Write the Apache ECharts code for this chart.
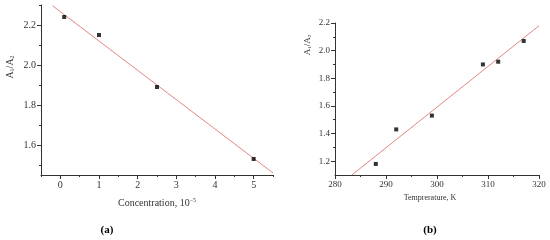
<!DOCTYPE html>
<html>
<head>
<meta charset="utf-8">
<script src="https://cdn.jsdelivr.net/npm/echarts@6/dist/echarts.min.js"></script>
<style>html,body{margin:0;padding:0;background:#fff}</style>
</head>
<body>
<div id="container" style="width:550px;height:240px;"></div>
<script type="text/javascript">
// (a) ratio vs concentration
var concX = [0.1, 1, 2.5, 5];
var concY = [2.24, 2.15, 1.89, 1.53];
var concFit = [[-0.2, 2.296], [5.5, 1.46]];
var concTicks = [0, 1, 2, 3, 4, 5];
var concMinor = [-0.5, 0.5, 1.5, 2.5, 3.5, 4.5, 5.5];
var ratioTicksA = [1.6, 1.8, 2.0, 2.2];
var ratioMinorA = [1.5, 1.7, 1.9, 2.1, 2.3];

// (b) ratio vs temperature
var tempX = [288, 292, 299, 309, 312, 317];
var tempY = [1.18, 1.43, 1.53, 1.90, 1.92, 2.07];
var tempFit = [[283.3, 1.1], [320, 2.18]];
var tempTicks = [280, 290, 300, 310, 320];
var tempMinor = [285, 295, 305, 315];
var ratioTicksB = [1.2, 1.4, 1.6, 1.8, 2.0, 2.2];
var ratioMinorB = [1.3, 1.5, 1.7, 1.9, 2.1];

var font = 'Liberation Serif';
var ink = '#333';
var fitColor = '#e48686';

function pairs(xs, ys) {
    var out = [];
    for (var i = 0; i < xs.length; i++) out.push([xs[i], ys[i]]);
    return out;
}

function mainAxis(grid, min, max, ticks, size, decimals, extra) {
    var ax = {
        type: 'value', gridIndex: grid, min: min, max: max,
        axisLine: { show: true, onZero: false, lineStyle: { color: ink, width: 1 } },
        axisTick: { show: true, length: 4, customValues: ticks, lineStyle: { color: ink } },
        axisLabel: { show: true, customValues: ticks, color: ink, fontFamily: font, fontSize: size, margin: 5,
            formatter: function (v) { return v.toFixed(decimals); } },
        splitLine: { show: false }
    };
    for (var k in extra) ax[k] = extra[k];
    return ax;
}

// second axis on the same side, only for the short minor ticks
function minorAxis(grid, min, max, ticks, extra) {
    var ax = {
        type: 'value', gridIndex: grid, min: min, max: max,
        axisLine: { show: false, onZero: false },
        axisTick: { show: true, length: 2, customValues: ticks, lineStyle: { color: ink } },
        axisLabel: { show: false },
        splitLine: { show: false }
    };
    for (var k in extra) ax[k] = extra[k];
    return ax;
}

var myChart = echarts.init(document.getElementById('container'), null, { renderer: 'canvas' });

var option = {
    animation: false,
    backgroundColor: '#fff',
    grid: [
        { left: 41, top: 5, width: 232, bottom: 65 },
        { left: 335, top: 23, width: 204, bottom: 65 }
    ],
    xAxis: [
        mainAxis(0, -0.5, 5.5, concTicks, 10, 0, {
            position: 'bottom',
            name: 'Concentration, 10{sup|\u22125}', nameLocation: 'middle', nameGap: 22,
            nameTextStyle: { color: ink, fontFamily: font, fontSize: 10, rich: { sup: { fontSize: 6, verticalAlign: 'top', padding: [0, 0, 6, 0], fontFamily: font, color: ink } } }
        }),
        minorAxis(0, -0.5, 5.5, concMinor, { position: 'bottom' }),
        mainAxis(1, 280, 320, tempTicks, 9, 0, {
            position: 'bottom',
            name: 'Temprerature, K', nameLocation: 'middle', nameGap: 19,
            nameTextStyle: { color: ink, fontFamily: font, fontSize: 8, padding: [0, 14, 0, 0] }
        }),
        minorAxis(1, 280, 320, tempMinor, { position: 'bottom' })
    ],
    yAxis: [
        mainAxis(0, 1.45, 2.3, ratioTicksA, 10, 1, { position: 'left' }),
        minorAxis(0, 1.45, 2.3, ratioMinorA, { position: 'left' }),
        mainAxis(1, 1.1, 2.2, ratioTicksB, 9, 1, { position: 'left' }),
        minorAxis(1, 1.1, 2.2, ratioMinorB, { position: 'left' })
    ],
    graphic: [
        { type: 'text', x: 10, y: 67, rotation: Math.PI / 2, origin: [0, 0],
          style: { text: 'A{s|1}/A{s|2}', fill: ink, font: '10px ' + font, align: 'center', verticalAlign: 'middle',
                   rich: { s: { fontSize: 6, fontFamily: font, verticalAlign: 'bottom', fill: ink } } } },
        { type: 'text', x: 308, y: 45, rotation: Math.PI / 2, origin: [0, 0],
          style: { text: 'A{s|1}/A{s|2}', fill: ink, font: '9px ' + font, align: 'center', verticalAlign: 'middle',
                   rich: { s: { fontSize: 5, fontFamily: font, verticalAlign: 'bottom', fill: ink } } } },
        { type: 'text', x: 107, y: 230,
          style: { text: '(a)', fill: '#000', font: 'bold 11px ' + font, align: 'center', verticalAlign: 'middle' } },
        { type: 'text', x: 430, y: 230,
          style: { text: '(b)', fill: '#000', font: 'bold 11px ' + font, align: 'center', verticalAlign: 'middle' } }
    ],
    series: [
        {
            type: 'line', xAxisIndex: 0, yAxisIndex: 0, data: concFit,
            showSymbol: false, lineStyle: { color: fitColor, width: 1 }, z: 1
        },
        {
            type: 'scatter', xAxisIndex: 0, yAxisIndex: 0, data: pairs(concX, concY),
            symbol: 'rect', symbolSize: 4, itemStyle: { color: '#000' }, z: 2
        },
        {
            type: 'line', xAxisIndex: 2, yAxisIndex: 2, data: tempFit,
            showSymbol: false, lineStyle: { color: fitColor, width: 1 }, z: 1
        },
        {
            type: 'scatter', xAxisIndex: 2, yAxisIndex: 2, data: pairs(tempX, tempY),
            symbol: 'rect', symbolSize: 4, itemStyle: { color: '#000' }, z: 2
        }
    ]
};

myChart.setOption(option);
</script>
</body>
</html>
